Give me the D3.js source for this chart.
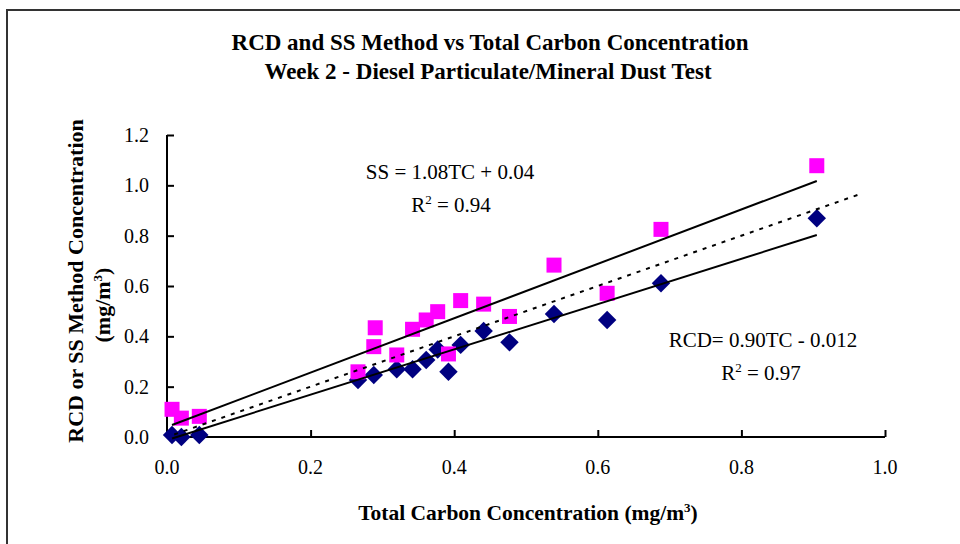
<!DOCTYPE html>
<html>
<head>
<meta charset="utf-8">
<script src="https://cdn.jsdelivr.net/npm/d3@7"></script>
<style>
  body { margin: 0; background: #fff; }
  text { font-family: "Liberation Serif", "Times New Roman", serif; fill: #000; }
</style>
</head>
<body>
<div id="chart"></div>
<script>
// Total carbon (x) shared by both series
var tc = [0.007, 0.020, 0.045, 0.266, 0.288, 0.320, 0.342, 0.361, 0.377, 0.392, 0.409, 0.441, 0.477, 0.539, 0.613, 0.688, 0.905];
// SS method (magenta squares)
var ssVals = [0.110, 0.075, 0.082, 0.259, 0.359, 0.326, 0.428, 0.465, 0.498, 0.330, 0.542, 0.528, 0.479, 0.683, 0.571, 0.825, 1.078];
// extra SS point sitting a bit off the shared x
var ssExtraX = [0.290];
var ssExtraY = [0.434];
// RCD method (navy diamonds)
var rcdVals = [0.008, 0.000, 0.008, 0.226, 0.246, 0.269, 0.269, 0.306, 0.348, 0.259, 0.366, 0.421, 0.376, 0.489, 0.465, 0.611, 0.869];

// fit lines: [slope, intercept]
var ssFit = [1.08, 0.04];
var rcdFit = [0.90, -0.012];
var oneToOne = [0.01, 0.965];

var xTicks = [0, 0.2, 0.4, 0.6, 0.8, 1.0];
var yTicks = [0, 0.2, 0.4, 0.6, 0.8, 1.0, 1.2];

var width = 960, height = 544;

var svg = d3.select("#chart").append("svg")
    .attr("width", width).attr("height", height);

// outer frame (runs off the right/bottom of the picture)
svg.append("rect")
    .attr("x", 7).attr("y", 10)
    .attr("width", 980).attr("height", 560)
    .attr("fill", "none").attr("stroke", "#333").attr("stroke-width", 2);

var xScale = d3.scaleLinear().domain([0, 1]).range([167, 885]);
var yScale = d3.scaleLinear().domain([0, 1.2]).range([437, 135]);

// axes, ticks pointing inward
var xAxis = d3.axisTop(xScale).tickValues(xTicks).tickSize(7).tickFormat("");
var yAxis = d3.axisRight(yScale).tickValues(yTicks).tickSize(7).tickFormat("");

var gx = svg.append("g").attr("transform", "translate(0,437)").call(xAxis);
var gy = svg.append("g").attr("transform", "translate(167,0)").call(yAxis);
[gx, gy].forEach(function (g) {
    g.select(".domain").attr("stroke", "#000").attr("stroke-width", 2);
    g.selectAll(".tick line").attr("stroke", "#000").attr("stroke-width", 2);
});
gx.select(".domain").attr("d", "M167,0H885");
gy.select(".domain").attr("d", "M0,135V437");

// tick labels
svg.append("g").selectAll("text").data(xTicks).enter().append("text")
    .attr("x", d => xScale(d)).attr("y", 474)
    .attr("text-anchor", "middle").attr("font-size", 20)
    .text(d => d3.format(".1f")(d));
svg.append("g").selectAll("text").data(yTicks).enter().append("text")
    .attr("x", 149).attr("y", d => yScale(d) + 7)
    .attr("text-anchor", "end").attr("font-size", 20)
    .text(d => d3.format(".1f")(d));

// markers
var rcdData = tc.map((x, i) => ({ x: x, y: rcdVals[i] }));
var ssData = tc.map((x, i) => ({ x: x, y: ssVals[i] }))
    .concat(ssExtraX.map((x, i) => ({ x: x, y: ssExtraY[i] })));

svg.append("g").selectAll("path").data(rcdData).enter().append("path")
    .attr("d", d3.symbol().type(d3.symbolSquare).size(170))
    .attr("transform", d => `translate(${xScale(d.x)},${yScale(d.y)}) rotate(45)`)
    .attr("fill", "#000080");

svg.append("g").selectAll("rect").data(ssData).enter().append("rect")
    .attr("x", d => xScale(d.x) - 7.5).attr("y", d => yScale(d.y) - 7.5)
    .attr("width", 15).attr("height", 15)
    .attr("fill", "#ff00ff");

// trend lines
var xMin = d3.min(tc), xMax = d3.max(tc);
function fitLine(f) {
    return [[xMin, f[0] * xMin + f[1]], [xMax, f[0] * xMax + f[1]]];
}
var line = d3.line().x(d => xScale(d[0])).y(d => yScale(d[1]));

svg.append("path").attr("d", line(fitLine(ssFit)))
    .attr("stroke", "#000").attr("stroke-width", 2).attr("fill", "none");
svg.append("path").attr("d", line(fitLine(rcdFit)))
    .attr("stroke", "#000").attr("stroke-width", 2).attr("fill", "none");
svg.append("path").attr("d", line(oneToOne.map(v => [v, v])))
    .attr("stroke", "#000").attr("stroke-width", 2).attr("stroke-dasharray", "4,6")
    .attr("fill", "none");

// equations
function eq(x, y, txt) {
    svg.append("text").attr("x", x).attr("y", y)
        .attr("text-anchor", "middle").attr("font-size", 21).text(txt);
}
eq(450, 179, "SS = 1.08TC + 0.04");
eq(763, 347, "RCD= 0.90TC - 0.012");
function r2(x, y, val) {
    var t = svg.append("text").attr("x", x).attr("y", y)
        .attr("text-anchor", "middle").attr("font-size", 21);
    t.append("tspan").text("R");
    t.append("tspan").attr("dy", -8).attr("font-size", 13).text("2");
    t.append("tspan").attr("dy", 8).text(" = " + val);
}
r2(451, 212, "0.94");
r2(761, 380, "0.97");

// titles
svg.append("text").attr("x", 490).attr("y", 50)
    .attr("text-anchor", "middle").attr("font-size", 23).attr("font-weight", "bold")
    .text("RCD and SS Method vs Total Carbon Concentration");
svg.append("text").attr("x", 488).attr("y", 79)
    .attr("text-anchor", "middle").attr("font-size", 23).attr("font-weight", "bold")
    .text("Week 2 - Diesel Particulate/Mineral Dust Test");

// x label
var xl = svg.append("text").attr("x", 528).attr("y", 520)
    .attr("text-anchor", "middle").attr("font-size", 21.5).attr("font-weight", "bold");
xl.append("tspan").text("Total Carbon Concentration (mg/m");
xl.append("tspan").attr("dy", -8).attr("font-size", 13).text("3");
xl.append("tspan").attr("dy", 8).text(")");

// y label
var yl = svg.append("g");
yl.append("text").attr("transform", "translate(83,281) rotate(-90)")
    .attr("text-anchor", "middle").attr("font-size", 22).attr("font-weight", "bold")
    .text("RCD or SS Method Concentration");
var yl2 = yl.append("text").attr("transform", "translate(110,305) rotate(-90)")
    .attr("text-anchor", "middle").attr("font-size", 22).attr("font-weight", "bold");
yl2.append("tspan").text("(mg/m");
yl2.append("tspan").attr("dy", -8).attr("font-size", 13).text("3");
yl2.append("tspan").attr("dy", 8).text(")");
</script>
</body>
</html>
